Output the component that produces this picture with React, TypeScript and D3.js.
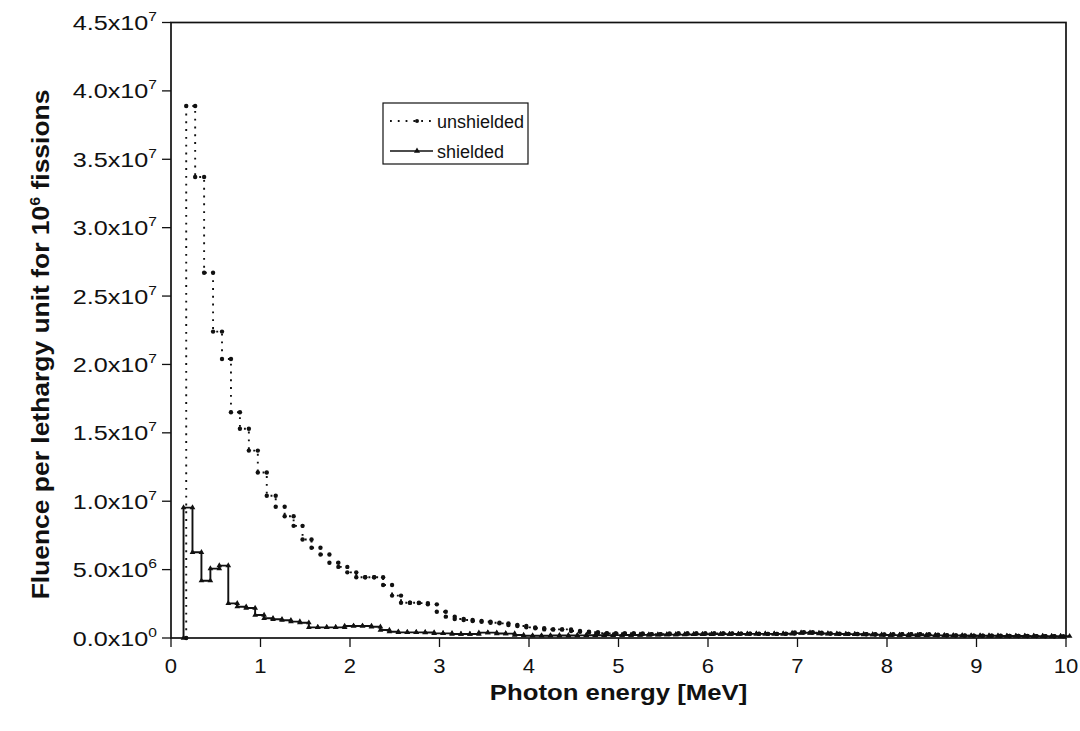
import React from 'react';
import * as d3 from 'd3';

// ---- data (fluence values in units of 1e6 per lethargy unit) ----
const BIN_WIDTH = 0.1; // MeV
const UNSHIELDED_START = 0.17; // MeV, first bin lower edge
const SHIELDED_START = 0.14; // MeV, first bin lower edge

const unshielded = [
  38.9, 33.7, 26.7, 22.4, 20.4, 16.5, 15.3, 13.7, 12.1, 10.4,
  9.6, 8.9, 8.2, 7.2, 6.6, 6.1, 5.5, 5.2, 4.8, 4.44,
  4.44, 4.44, 3.87, 3.1, 2.58, 2.58, 2.55, 2.46, 1.92, 1.56,
  1.39, 1.32, 1.24, 1.19, 1.12, 1.07, 0.95, 0.88, 0.78, 0.71,
  0.63, 0.63, 0.63, 0.51, 0.46, 0.42, 0.36, 0.34, 0.34, 0.34,
  0.34, 0.28, 0.28, 0.28, 0.33, 0.33, 0.33, 0.33, 0.33, 0.33,
  0.33, 0.32, 0.32, 0.31, 0.3, 0.3, 0.3, 0.32, 0.4, 0.42,
  0.38, 0.33, 0.32, 0.3, 0.3, 0.28, 0.27, 0.26, 0.25, 0.27,
  0.28, 0.28, 0.27, 0.25, 0.2, 0.19, 0.18, 0.17, 0.17, 0.16,
  0.16, 0.15, 0.15, 0.15, 0.14, 0.14, 0.13, 0.13,
];

const shielded = [
  9.53, 6.27, 4.19, 5.07, 5.29, 2.53, 2.29, 2.19, 1.68, 1.44,
  1.37, 1.3, 1.2, 1.12, 0.78, 0.78, 0.78, 0.78, 0.88, 0.88,
  0.88, 0.82, 0.58, 0.46, 0.41, 0.41, 0.41, 0.4, 0.34, 0.34,
  0.29, 0.29, 0.29, 0.39, 0.39, 0.33, 0.32, 0.22, 0.17, 0.17,
  0.17, 0.18, 0.18, 0.18, 0.19, 0.2, 0.2, 0.2, 0.21, 0.22,
  0.22, 0.23, 0.23, 0.24, 0.25, 0.25, 0.26, 0.27, 0.27, 0.28,
  0.28, 0.29, 0.29, 0.3, 0.3, 0.3, 0.3, 0.31, 0.36, 0.38,
  0.36, 0.33, 0.3, 0.29, 0.28, 0.27, 0.25, 0.24, 0.22, 0.21,
  0.21, 0.2, 0.2, 0.19, 0.19, 0.18, 0.18, 0.17, 0.17, 0.16,
  0.16, 0.15, 0.15, 0.15, 0.14, 0.14, 0.13, 0.13, 0.13,
];

const xTicks = [0, 1, 2, 3, 4, 5, 6, 7, 8, 9, 10];
const yTicks = [0, 5, 10, 15, 20, 25, 30, 35, 40, 45];
const yTickMantissa = ['0.0', '5.0', '1.0', '1.5', '2.0', '2.5', '3.0', '3.5', '4.0', '4.5'];
const yTickExponent = ['0', '6', '7', '7', '7', '7', '7', '7', '7', '7'];

const seriesNames = ['unshielded', 'shielded'];
const xTitle = 'Photon energy [MeV]';

// ---- layout ----
const W = 1080;
const H = 731;
const PLOT = { left: 171, right: 1066, top: 22.5, bottom: 638 };
const FONT = '"Liberation Sans", Arial, Helvetica, sans-serif';

function stepPoints(start: number, values: number[]): [number, number][] {
  const pts: [number, number][] = [[start, 0]];
  values.forEach((v, i) => {
    const e0 = start + i * BIN_WIDTH;
    pts.push([e0, v], [e0 + BIN_WIDTH, v]);
  });
  return pts;
}

export default function App() {
  const x = d3.scaleLinear().domain([0, 10]).range([PLOT.left, PLOT.right]);
  const y = d3.scaleLinear().domain([0, 45]).range([PLOT.bottom, PLOT.top]);
  const line = d3
    .line<[number, number]>()
    .x((d) => x(d[0]))
    .y((d) => y(d[1]));

  const uPts = stepPoints(UNSHIELDED_START, unshielded);
  const sPts = stepPoints(SHIELDED_START, shielded);
  const tri = d3.symbol().type(d3.symbolTriangle).size(14)() as string;
  const triLegend = d3.symbol().type(d3.symbolTriangle).size(16)() as string;

  return (
    <svg
      width={W}
      height={H}
      style={{ position: 'absolute', left: 0, top: 0, background: '#fff' }}
      fontFamily={FONT}
    >
      <rect x={0} y={0} width={W} height={H} fill="#fff" />

      {/* shielded series: solid step line with small triangles */}
      <path d={line(sPts) || ''} fill="none" stroke="#111" strokeWidth={1.9} />
      {sPts.map((p, i) => (
        <path key={'s' + i} d={tri} transform={`translate(${x(p[0])},${y(p[1])})`} fill="#111" />
      ))}

      {/* unshielded series: dotted step line with round markers */}
      <path
        d={line(uPts) || ''}
        fill="none"
        stroke="#111"
        strokeWidth={1.9}
        strokeDasharray="1.9 5.9"
      />
      {uPts.map((p, i) => (
        <circle key={'u' + i} cx={x(p[0])} cy={y(p[1])} r={2.2} fill="#111" />
      ))}

      {/* frame */}
      <rect
        x={PLOT.left}
        y={PLOT.top}
        width={PLOT.right - PLOT.left}
        height={PLOT.bottom - PLOT.top}
        fill="none"
        stroke="#111"
        strokeWidth={1.7}
      />

      {/* y ticks & labels */}
      {yTicks.map((t, i) => (
        <g key={'yt' + i}>
          <line x1={PLOT.left - 9} x2={PLOT.left} y1={y(t)} y2={y(t)} stroke="#111" strokeWidth={1.3} />
          <text
            transform={`translate(157,${y(t) + 7.5}) scale(1.2,1)`}
            textAnchor="end"
            fontSize={21}
            fill="#111"
          >
            {yTickMantissa[i]}x10
            <tspan dy={-9} fontSize={13}>
              {yTickExponent[i]}
            </tspan>
          </text>
        </g>
      ))}

      {/* x ticks & labels */}
      {xTicks.map((t, i) => (
        <g key={'xt' + i}>
          <line x1={x(t)} x2={x(t)} y1={PLOT.bottom} y2={PLOT.bottom + 9} stroke="#111" strokeWidth={1.3} />
          <text
            transform={`translate(${x(t)},673) scale(1.05,1)`}
            textAnchor="middle"
            fontSize={21}
            fill="#111"
          >
            {t}
          </text>
        </g>
      ))}

      {/* axis titles */}
      <text
        transform={`translate(${(PLOT.left + PLOT.right) / 2},700) scale(1.12,1)`}
        textAnchor="middle"
        fontSize={23}
        fontWeight="bold"
        fill="#111"
      >
        {xTitle}
      </text>
      <text
        transform="translate(49,344.5) rotate(-90) scale(1.15,1)"
        textAnchor="middle"
        fontSize={23}
        fontWeight="bold"
        fill="#111"
      >
        Fluence per lethargy unit for 10
        <tspan dy={-9} fontSize={14}>
          6
        </tspan>
        <tspan dy={9}> fissions</tspan>
      </text>

      {/* legend */}
      <g>
        <rect x={383} y={103} width={145} height={61} fill="#fff" stroke="#111" strokeWidth={1.2} />
        <line x1={390} x2={432} y1={121} y2={121} stroke="#111" strokeWidth={1.8} strokeDasharray="1.8 6" />
        <circle cx={417} cy={121} r={2} fill="#111" />
        <text x={437} y={128} fontSize={18} fill="#111">
          {seriesNames[0]}
        </text>
        <line x1={390} x2={433} y1={151} y2={151} stroke="#111" strokeWidth={1.6} />
        <path d={triLegend} transform="translate(417,151)" fill="#111" />
        <text x={437} y={158} fontSize={18} fill="#111">
          {seriesNames[1]}
        </text>
      </g>
    </svg>
  );
}
